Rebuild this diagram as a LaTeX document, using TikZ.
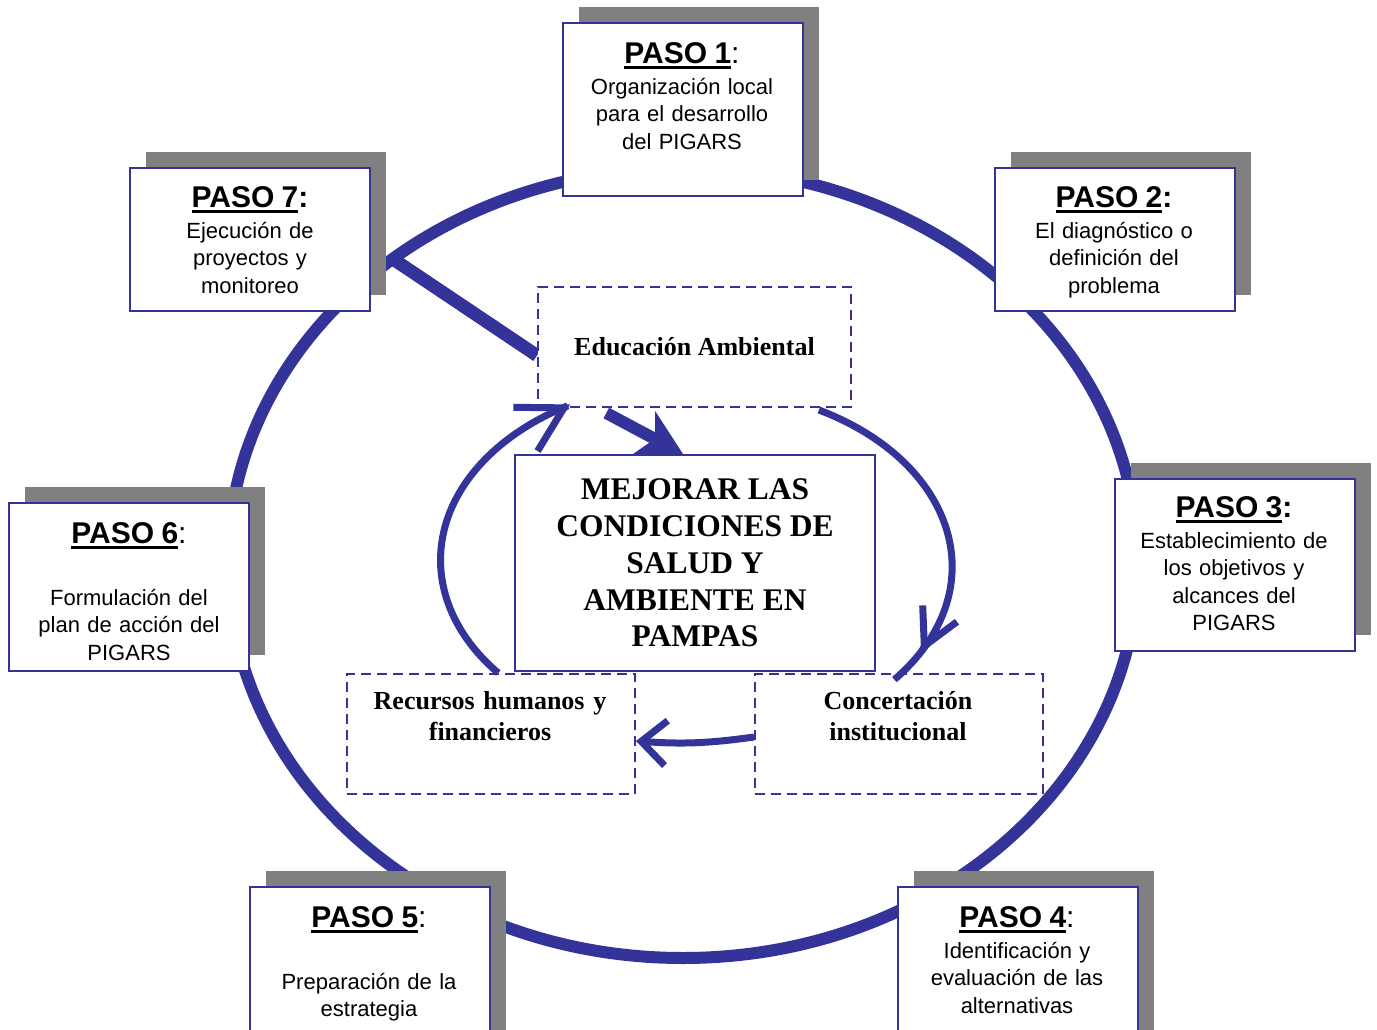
\documentclass[tikz,border=0pt]{standalone}
\usepackage{fontspec}
\setmainfont{Liberation Serif}
\newfontfamily\arialf{Liberation Sans}
\usetikzlibrary{arrows.meta,calc,shadows}
\definecolor{pblue}{RGB}{51,51,153}
\definecolor{pgray}{RGB}{128,128,128}
\newsavebox\ulbox
\newcommand\myul[1]{\sbox\ulbox{#1}\rlap{\rule[-6pt]{\wd\ulbox}{3pt}}\usebox\ulbox}
\newcommand\hdr[2]{{\fontsize{30}{31}\selectfont\myul{\bfseries PASO #1}#2}}
\pgfdeclarelayer{back}
\pgfsetlayers{back,main}
\begin{document}
\begin{tikzpicture}[x=1pt,y=1pt,
  stepbox/.style={draw=pblue, line width=2pt, fill=white, minimum width=240pt, minimum height=#1, inner sep=0pt, anchor=north west,
    drop shadow={shadow xshift=16pt, shadow yshift=16pt, fill=pgray, opacity=1}},
  steptext/.style={anchor=base, text width=236pt, align=center, inner sep=0pt, font=\arialf\fontsize{22}{27.5}\selectfont},
  dbox/.style={draw=pblue, line width=2pt, dash pattern=on 10pt off 6pt, fill=white, inner sep=0pt, anchor=north west},
  serifb/.style={font=\bfseries\fontsize{26}{31}\selectfont, align=center, inner sep=0pt},
  loopline/.style={draw=pblue, line width=7pt}
]
\useasboundingbox (0,0) rectangle (1377,-1029);
\clip (0,0) rectangle (1377,-1029);

% step boxes
\node[stepbox=173pt] (p1) at (562,-22) {};
\node[stepbox=143pt] (p2) at (994,-167) {};
\node[stepbox=172pt] (p3) at (1114,-478) {};
\node[stepbox=170pt] (p4) at (897,-886) {};
\node[stepbox=170pt] (p5) at (249,-886) {};
\node[stepbox=168pt] (p6) at (8,-502) {};
\node[stepbox=143pt] (p7) at (129,-167) {};

\node[steptext] (t1) at (682,-63) {\hdr{1}{:}\\[3.5pt]Organización local\\para el desarrollo\\del PIGARS};
\node[steptext] (t2) at (1114,-207) {\hdr{2}{\bfseries:}\\[3.5pt]El diagnóstico o\\definición del\\problema};
\node[steptext] (t3) at (1234,-517) {\hdr{3}{\bfseries:}\\[3.5pt]Establecimiento de\\los objetivos y\\alcances del\\PIGARS};
\node[steptext] (t4) at (1017,-927) {\hdr{4}{:}\\[3.5pt]Identificación y\\evaluación de las\\alternativas};
\node[steptext] (t5) at (369,-927) {\hdr{5}{:}\\[34.5pt]Preparación de la\\estrategia};
\node[steptext] (t6) at (129,-543) {\hdr{6}{:}\\[34.5pt]Formulación del\\plan de acción del\\PIGARS};
\node[steptext] (t7) at (250,-207) {\hdr{7}{\bfseries:}\\[3.5pt]Ejecución de\\proyectos y\\monitoreo};

% centre
\node[draw=pblue, line width=2pt, fill=white, anchor=north west, minimum width=360pt, minimum height=216pt, inner sep=0pt,
  align=center, font=\bfseries\fontsize{31.5}{36.75}\selectfont] (mej) at (514,-454)
  {MEJORAR LAS\\CONDICIONES DE\\SALUD Y\\AMBIENTE EN\\PAMPAS};

\node[dbox, minimum width=313pt, minimum height=120pt, font=\bfseries\fontsize{26}{31}\selectfont] (edu) at (537,-286) {Educación Ambiental};
\node[dbox, minimum width=288pt, minimum height=120pt] (rec) at (346,-673) {};
\node[dbox, minimum width=288pt, minimum height=120pt] (con) at (754,-673) {};
\node[serifb, anchor=base, text width=280pt] (rect) at (490,-709) {Recursos humanos y\\financieros};
\node[serifb, anchor=base, text width=280pt] (cont) at (898,-709) {Concertación\\institucional};

\begin{pgfonlayer}{back}
\fill[white] (0,0) rectangle (1377,-1029);
\draw[pblue, line width=12pt] (683,-563) ellipse [x radius=455, y radius=395];
\coordinate (j7) at (390,-257);
\draw[pblue, line width=13pt] (j7) -- ($(edu.south west)!0.43!(edu.north west)$);
\end{pgfonlayer}

% arrows
\draw[pblue, line width=12pt, -{Stealth[length=44pt, width=48pt, inset=12pt]}]
  ($(edu.south west)!0.22!(edu.south east)+(0,-5)$) -- ($(mej.north west)!0.467!(mej.north east)$);
\draw[loopline, -{Straight Barb[sharp, length=44pt, width=50pt]}]
  ($(rec.north west)!0.525!(rec.north east)$) arc[start angle=219.4, end angle=120, x radius=254, y radius=178] -- ++(29:3);
\draw[loopline, -{Straight Barb[sharp, length=36pt, width=38pt]}]
  ($(edu.south west)!0.895!(edu.south east)+(0,-2)$) arc[start angle=61.6, end angle=-28, x radius=254, y radius=178] coordinate (rtip) -- ++(244.5:3);
\draw[loopline] (rtip) arc[start angle=-28, end angle=-39.4, x radius=254, y radius=178];
\draw[loopline, -{Straight Barb[sharp, length=25pt, width=45pt]}]
  ($(con.west)+(0,-3)$) to[bend left=6] ($(rec.east)+(0,-7)$);
\end{tikzpicture}
\end{document}
